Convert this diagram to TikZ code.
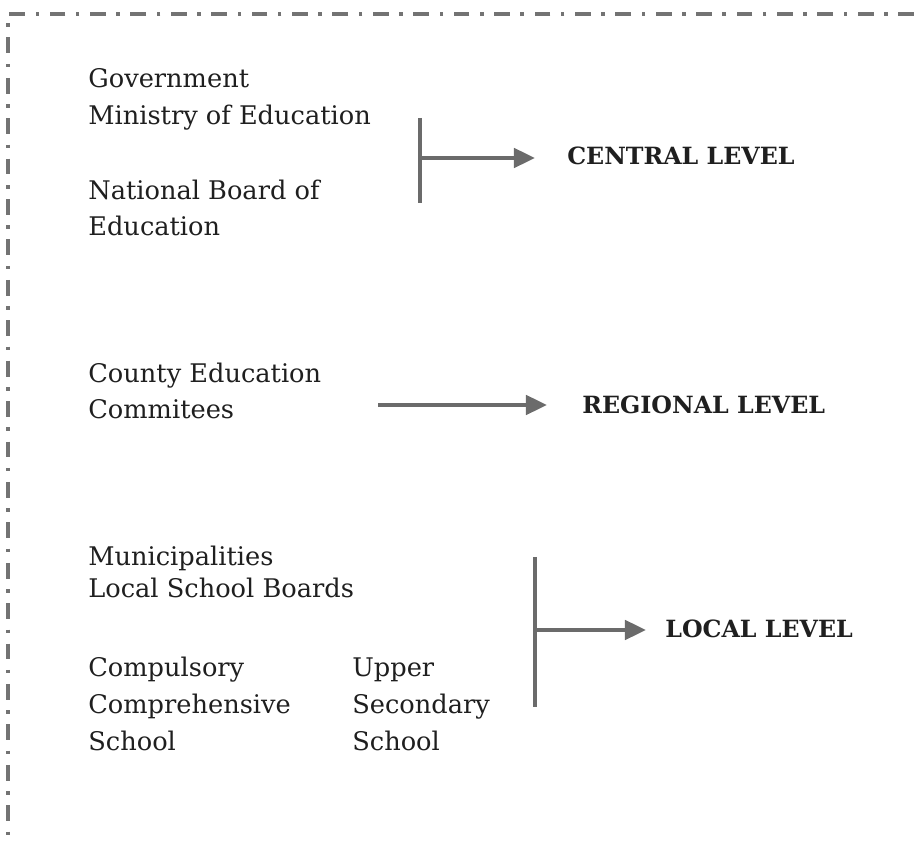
\documentclass[tikz,border=0pt]{standalone}
\usepackage{fontspec}
\setmainfont{DejaVu Serif}
\usepackage{tikz}
\usetikzlibrary{positioning}
\usetikzlibrary{arrows.meta}
\pgfdeclarelayer{nodelayer}
\pgfdeclarelayer{edgelayer}
\pgfsetlayers{nodelayer,edgelayer,main}
\tikzset{
  body/.style={anchor=base west, inner sep=0pt, text=black!88, font=\fontsize{14.6}{17}\selectfont},
  levellabel/.style={anchor=base west, inner sep=0pt, text=black!88, font=\fontsize{13.5}{16}\selectfont\bfseries},
  bar/.style={draw=black!58, line width=2.2pt},
  levelarrow/.style={draw=black!58, line width=2.2pt, -{Triangle[length=12pt,width=11pt]}},
  frame/.style={draw=black!55, line width=2pt, dash pattern=on 9pt off 6pt on 2pt off 6pt}
}

\begin{document}
\begin{tikzpicture}[x=0.02cm, y=-0.02cm]
  \useasboundingbox (0, 0) rectangle (914, 844);
  \begin{pgfonlayer}{nodelayer}
    % central level
    \node [body] (0) at (88, 88) {Government};
    \node [body] (1) at (88, 125) {Ministry of Education};
    \node [body] (2) at (88, 200) {National Board of};
    \node [body] (3) at (88, 236) {Education};
    \node [levellabel] (4) at (567, 165) {CENTRAL LEVEL};
    % regional level
    \node [body] (5) at (88, 383) {County Education};
    \node [body] (6) at (88, 419) {Commitees};
    \node [levellabel] (7) at (582, 414) {REGIONAL LEVEL};
    % local level
    \node [body] (8) at (88, 566) {Municipalities};
    \node [body] (9) at (88, 598) {Local School Boards};
    \node [body] (10) at (88, 677) {Compulsory};
    \node [body] (11) at (88, 714) {Comprehensive};
    \node [body] (12) at (88, 751) {School};
    \node [body] (13) at (352, 677) {Upper};
    \node [body] (14) at (352, 714) {Secondary};
    \node [body] (15) at (352, 751) {School};
    \node [levellabel] (16) at (665, 638) {LOCAL LEVEL};
    \coordinate (17) at (420, 118);
    \coordinate (18) at (420, 203);
    \coordinate (19) at (420, 158);
    \coordinate (20) at (535, 158);
    \coordinate (21) at (378, 405);
    \coordinate (22) at (547, 405);
    \coordinate (23) at (535, 557);
    \coordinate (24) at (535, 707);
    \coordinate (25) at (535, 630);
    \coordinate (26) at (646, 630);
    \coordinate (27) at (8, 14);
    \coordinate (28) at (914, 14);
    \coordinate (29) at (8, 844);
  \end{pgfonlayer}
  \begin{pgfonlayer}{edgelayer}
    \draw [frame] (28) to (27) to (29);
    \draw [bar] (17) to (18);
    \draw [levelarrow] (19) to (20);
    \draw [levelarrow] (21) to (22);
    \draw [bar] (23) to (24);
    \draw [levelarrow] (25) to (26);
  \end{pgfonlayer}
\end{tikzpicture}
\end{document}
